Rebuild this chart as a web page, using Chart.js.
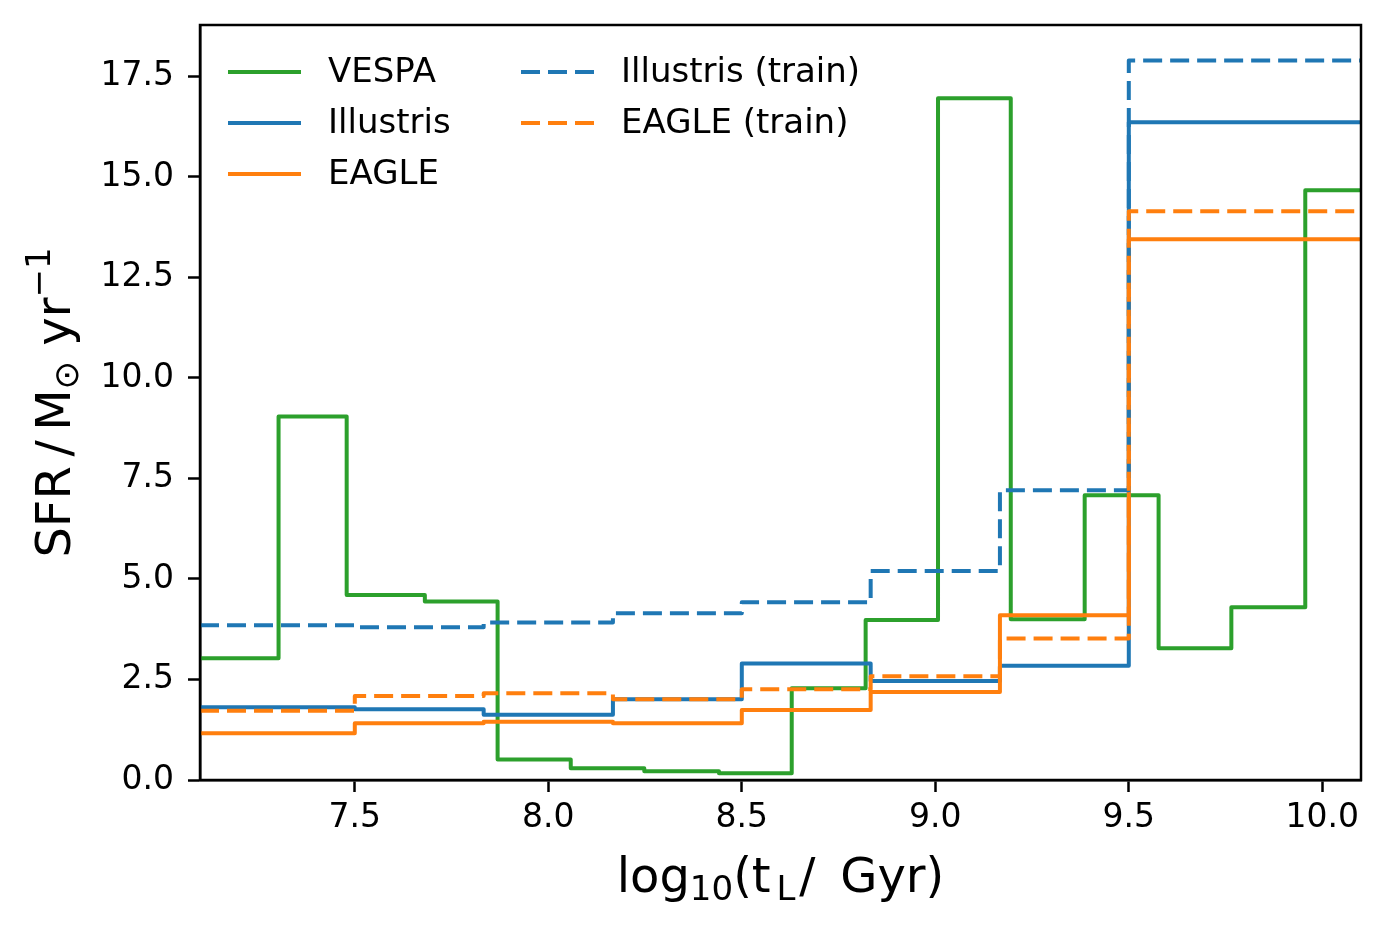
<!DOCTYPE html>
<html>
<head>
<meta charset="utf-8">
<script src="https://cdn.jsdelivr.net/npm/chart.js@4/dist/chart.umd.min.js"></script>
<style>
  html, body { margin: 0; padding: 0; background: #fff; }
  #wrap { width: 1386px; height: 929px; }
</style>
</head>
<body>
<div id="wrap"><canvas id="sfh" width="1386" height="929"></canvas></div>
<script>
// bin edges in log10(age / yr)
const edgesVespa = [7.1, 7.303, 7.479, 7.681, 7.869, 8.058, 8.248, 8.441, 8.629, 8.820, 9.007, 9.195, 9.386, 9.577, 9.765, 9.956, 10.1];
const edgesSim = [7.1, 7.5, 7.833, 8.167, 8.5, 8.833, 9.167, 9.5, 10.1];

// SFR per bin (M_sun / yr)
const sfrVespa = [3.03, 9.04, 4.60, 4.44, 0.51, 0.29, 0.22, 0.17, 2.28, 3.98, 16.96, 4.00, 7.08, 3.28, 4.30, 14.67];
const sfrIllustris = [1.81, 1.76, 1.62, 2.01, 2.90, 2.46, 2.84, 16.36];
const sfrEagle = [1.16, 1.41, 1.45, 1.41, 1.74, 2.19, 4.10, 13.45];
const sfrIllustrisTrain = [3.85, 3.80, 3.92, 4.15, 4.42, 5.20, 7.21, 17.90];
const sfrEagleTrain = [1.72, 2.09, 2.16, 2.01, 2.26, 2.58, 3.52, 14.15];

const xTicks = [7.5, 8.0, 8.5, 9.0, 9.5, 10.0];
const yTicks = [0, 2.5, 5.0, 7.5, 10.0, 12.5, 15.0, 17.5];

const GREEN = '#2ca02c', BLUE = '#1f77b4', ORANGE = '#ff7f0e';
const FONT = "'DejaVu Sans', 'Liberation Sans', sans-serif";
const LW = 4;

// points at the left edge of each bin, plus one at the last right edge
function stepPoints(edges, vals) {
    const pts = vals.map((v, i) => ({x: edges[i], y: v}));
    pts.push({x: edges[edges.length - 1], y: vals[vals.length - 1]});
    return pts;
}

function line(label, edges, vals, color, dashed, order) {
    return {
        label: label,
        data: stepPoints(edges, vals),
        borderColor: color,
        backgroundColor: color,
        borderWidth: LW,
        borderDash: dashed ? [19, 8] : [],
        borderJoinStyle: 'round',
        borderCapStyle: 'butt',
        stepped: 'before',
        pointRadius: 0,
        fill: false,
        order: order
    };
}

// draws a string made of pieces, some of them sub/superscript
function richText(ctx, pieces, size, x, y) {
    const small = Math.round(size * 0.7);
    let total = 0;
    pieces.forEach(p => {
        ctx.font = (p.sub || p.sup ? small : size) + 'px ' + FONT;
        p.w = ctx.measureText(p.t).width + (p.gap || 0) * size;
        total += p.w;
    });
    let cx = x - total / 2;
    pieces.forEach(p => {
        ctx.font = (p.sub || p.sup ? small : size) + 'px ' + FONT;
        let dy = 0;
        if (p.sub) dy = size * 0.17;
        if (p.sup) dy = -size * 0.42;
        ctx.fillText(p.t, cx + (p.gap || 0) * size, y + dy);
        cx += p.w;
    });
}

const decor = {
    id: 'decor',
    afterDraw(chart) {
        const ctx = chart.ctx, a = chart.chartArea;
        ctx.save();
        // frame on all four sides
        ctx.strokeStyle = '#000';
        ctx.lineWidth = 2.5;
        ctx.strokeRect(a.left, a.top, a.right - a.left, a.bottom - a.top);

        ctx.fillStyle = '#000';
        ctx.textAlign = 'left';
        ctx.textBaseline = 'alphabetic';
        // x axis title
        richText(ctx, [
            {t: 'log'}, {t: '10', sub: true}, {t: '(t'}, {t: 'L', sub: true, gap: 0.12},
            {t: '/ \u2009Gyr)', gap: 0.08}
        ], 48, (a.left + a.right) / 2, 892);
        // y axis title
        ctx.translate(70, (a.top + a.bottom) / 2);
        ctx.rotate(-Math.PI / 2);
        richText(ctx, [
            {t: 'SFR\u2009/\u2009M'}, {t: '\u2299', sub: true}, {t: ' yr'}, {t: '\u22121', sup: true}
        ], 48, 0, 0);
        ctx.restore();

        // legend, two columns
        ctx.save();
        const slots = [[0, 0], [0, 1], [0, 2], [1, 0], [1, 1]];
        const colX = [228, 521], rowY = [72, 123, 174];
        chart.data.datasets.forEach((ds, i) => {
            const [c, r] = slots[i];
            const x0 = colX[c], y0 = rowY[r];
            ctx.strokeStyle = ds.borderColor;
            ctx.lineWidth = LW;
            ctx.lineCap = 'butt';
            ctx.setLineDash(ds.borderDash);
            ctx.beginPath();
            ctx.moveTo(x0, y0);
            ctx.lineTo(x0 + 73, y0);
            ctx.stroke();
            ctx.setLineDash([]);
            ctx.fillStyle = '#000';
            ctx.font = '34px ' + FONT;
            ctx.textAlign = 'left';
            ctx.textBaseline = 'middle';
            ctx.fillText(ds.label, x0 + 100, y0 + 1);
        });
        ctx.restore();
    }
};

new Chart(document.getElementById('sfh'), {
    type: 'line',
    data: {
        datasets: [
            line('VESPA', edgesVespa, sfrVespa, GREEN, false, 5),
            line('Illustris', edgesSim, sfrIllustris, BLUE, false, 4),
            line('EAGLE', edgesSim, sfrEagle, ORANGE, false, 3),
            line('Illustris (train)', edgesSim, sfrIllustrisTrain, BLUE, true, 2),
            line('EAGLE (train)', edgesSim, sfrEagleTrain, ORANGE, true, 1)
        ]
    },
    options: {
        responsive: false,
        animation: false,
        devicePixelRatio: 1,
        layout: { padding: { top: 25, right: 25, left: 0, bottom: 0 } },
        plugins: { legend: { display: false }, tooltip: { enabled: false } },
        scales: {
            x: {
                type: 'linear',
                min: 7.1,
                max: 10.1,
                afterBuildTicks: s => { s.ticks = xTicks.map(v => ({value: v})); },
                afterFit: s => { s.height = 149; s.paddingLeft = 0; s.paddingRight = 0; },
                grid: { drawOnChartArea: false, tickLength: 12, tickWidth: 2.5, tickColor: '#000' },
                border: { color: '#000', width: 2.5 },
                ticks: {
                    color: '#000',
                    font: { family: FONT, size: 33 },
                    padding: 7,
                    maxRotation: 0,
                    callback: v => v.toFixed(1)
                }
            },
            y: {
                min: 0,
                max: 18.78,
                afterBuildTicks: s => { s.ticks = yTicks.map(v => ({value: v})); },
                afterFit: s => { s.width = 200; s.paddingTop = 0; s.paddingBottom = 0; },
                grid: { drawOnChartArea: false, tickLength: 12, tickWidth: 2.5, tickColor: '#000' },
                border: { color: '#000', width: 2.5 },
                ticks: {
                    color: '#000',
                    font: { family: FONT, size: 33 },
                    padding: 14,
                    callback: v => v.toFixed(1)
                }
            }
        }
    },
    plugins: [decor]
});
</script>
</body>
</html>
